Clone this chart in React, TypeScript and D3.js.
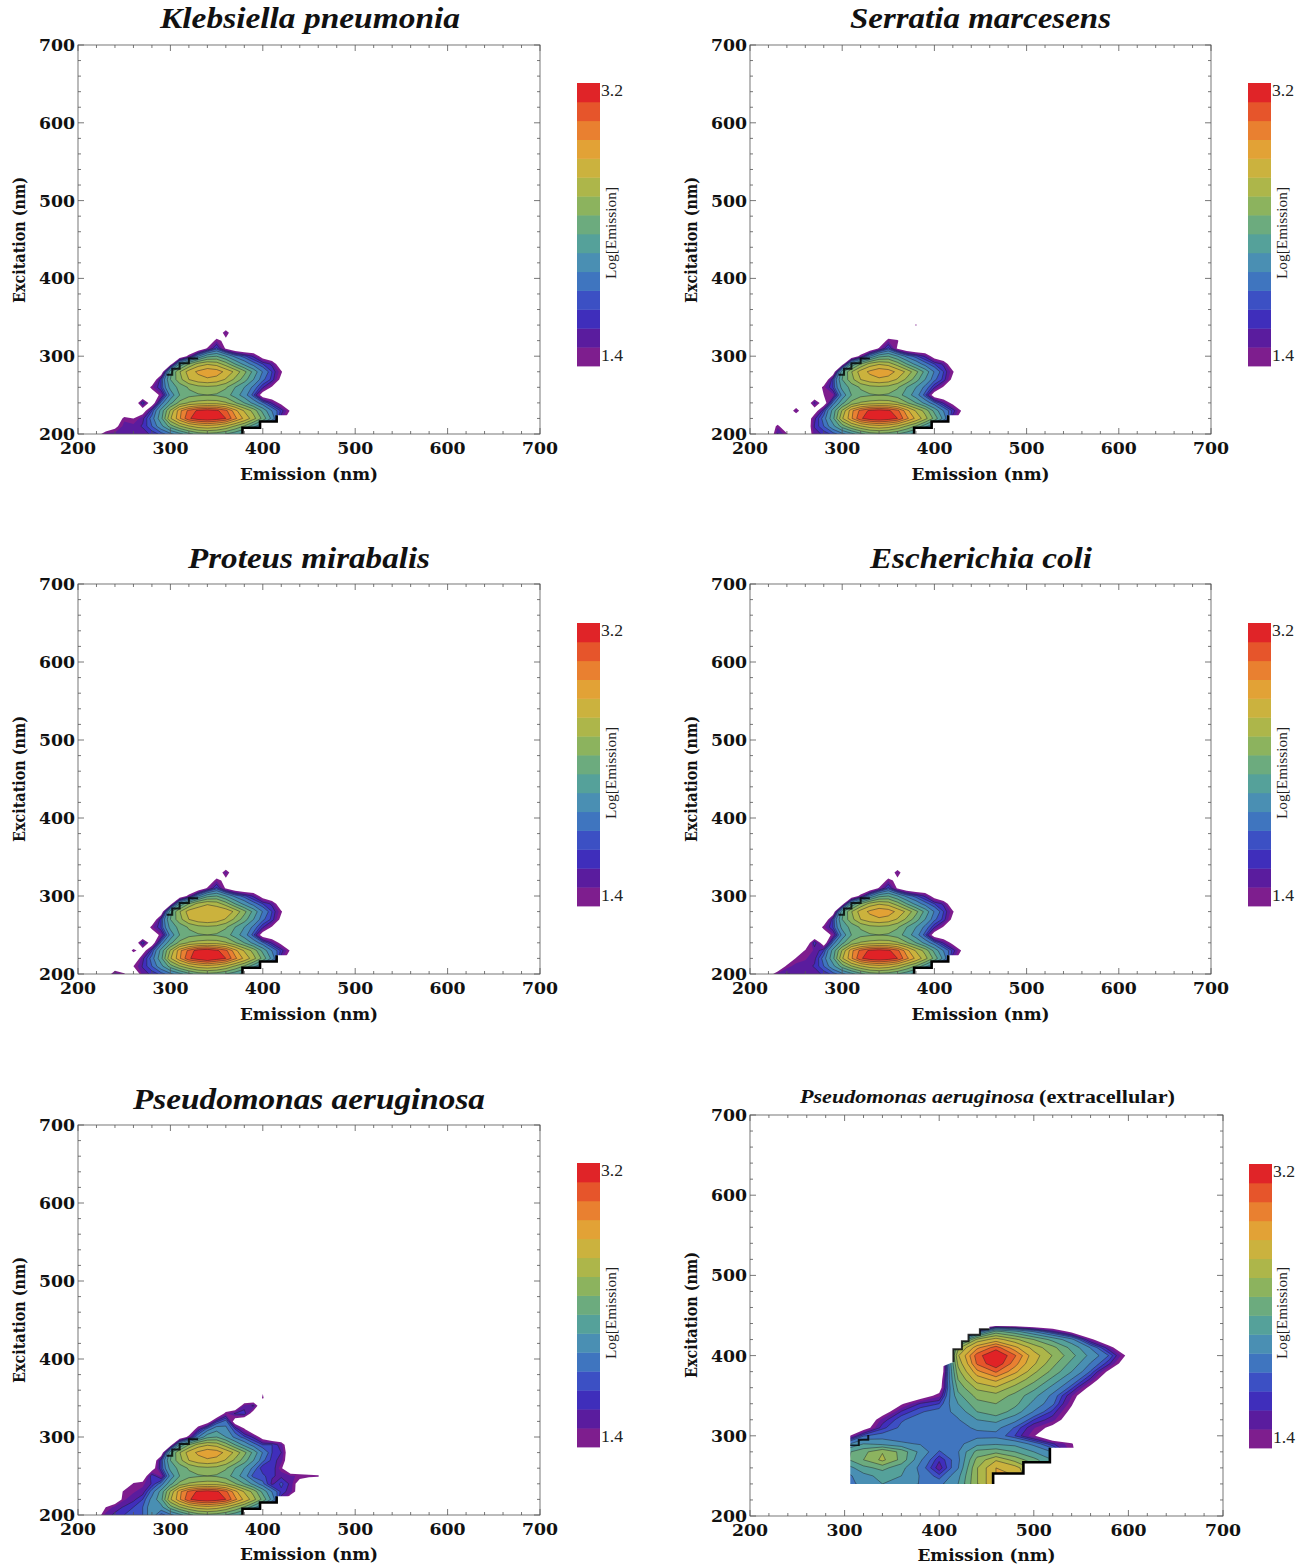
import React from "react";
import * as d3 from "d3";

const SERIF = "'Liberation Serif', serif";
const WIDE = "'DejaVu Serif', serif";
const o = 1.2;
const q = 1.1;

// Emission (columns) and excitation (rows, listed from top to bottom) of the bacterial EEM grid
const coreEm = [220,230,240,250,260,270,280,290,300,310,320,330,340,350,360,370,380,390,400,410,420,430,440,450,460,470];
const coreEx = [350,340,330,320,310,300,290,280,270,260,250,240,230,220,210,200];
const coreGrid = [
  [o,o,o,o,o,o,o,o,o,o,o,o,o,o,o,o,o,o,o,o,o,o,o,o,o,o],
  [o,o,o,o,o,o,o,o,o,o,o,o,o,o,o,o,o,o,o,o,o,o,o,o,o,o],
  [o,o,o,o,o,o,o,o,o,o,o,o,o,o,o,o,o,o,o,o,o,o,o,o,o,o],
  [o,o,o,o,o,o,o,o,o,o,o,o,1.22,1.46,1.34,o,o,o,o,o,o,o,o,o,o,o],
  [o,o,o,o,o,o,o,o,o,o,o,1.25,1.42,1.62,1.38,1.25,o,o,o,o,o,o,o,o,o,o],
  [o,o,o,o,o,o,o,o,o,1.25,1.45,1.75,2.0,2.05,1.9,1.72,1.62,1.52,1.32,o,o,o,o,o,o,o],
  [o,o,o,o,o,o,o,o,1.3,1.9,2.2,2.42,2.5,2.45,2.28,2.05,1.85,1.7,1.6,1.52,1.25,o,o,o,o,o],
  [o,o,o,o,o,o,o,1.25,2.0,2.35,2.6,2.74,2.84,2.8,2.65,2.48,2.25,2.0,1.75,1.6,1.42,o,o,o,o,o],
  [o,o,o,o,o,o,1.22,1.6,2.05,2.3,2.52,2.62,2.66,2.62,2.5,2.32,2.12,1.9,1.68,1.58,1.35,o,o,o,o,o],
  [o,o,o,o,o,o,1.45,1.6,1.95,2.1,2.22,2.3,2.32,2.3,2.22,2.05,1.9,1.72,1.55,1.38,o,o,o,o,o,o],
  [o,o,o,o,o,o,1.25,1.45,1.8,2.05,2.15,2.18,2.2,2.18,2.12,1.98,1.82,1.62,1.3,1.25,1.22,o,o,o,o,o],
  [o,o,o,o,o,o,1.28,1.7,2.0,2.25,2.38,2.42,2.44,2.44,2.38,2.22,2.05,1.85,1.68,1.52,1.35,1.22,o,o,o,o],
  [o,o,o,o,o,1.3,1.6,1.95,2.38,2.8,3.02,3.15,3.2,3.15,3.02,2.76,2.5,2.3,2.0,1.75,1.58,1.38,o,o,o,o],
  [o,o,o,o,o,1.52,1.7,2.0,2.5,2.82,3.1,3.2,3.25,3.2,3.12,2.88,2.66,2.42,2.15,1.85,1.5,1.25,o,o,o,o],
  [o,o,o,o,o,1.55,1.66,1.85,2.12,2.34,2.5,2.6,2.64,2.6,2.5,2.34,2.18,1.95,1.75,1.4,o,o,o,o,o,o],
  [o,o,o,o,o,1.5,1.56,1.62,1.72,1.85,2.0,2.12,2.15,2.12,2.05,1.95,1.85,1.6,1.3,o,o,o,o,o,o,o],
];

// Readings that differ from the shared grid: [emission, excitation, log value]
const klebsiellaEdits = [[220,200,1.3],[230,200,1.5],[240,200,1.5],[250,200,1.52],[260,200,1.5],[240,210,1.35],[250,210,1.5],[260,210,1.5],[250,220,1.45],[260,220,1.4],[270,240,1.6],[360,330,1.5]];
const serratiaEdits = [[230,200,1.55],[240,200,1.42],[230,210,1.45],[250,230,1.5],[270,240,1.55],[280,250,1.4],[360,320,1.42],[380,340,1.42]];
const proteusEdits = [[240,200,1.55],[250,200,1.42],[260,210,1.4],[270,240,1.6],[260,230,1.45],[360,330,1.52],[340,280,2.68],[350,280,2.66],[330,280,2.64],[340,220,3.3],[340,230,3.25],[330,230,3.2]];
const coliEdits = [[220,200,1.3],[230,200,1.5],[240,200,1.55],[250,200,1.52],[260,200,1.54],[240,210,1.44],[250,210,1.5],[260,210,1.5],[250,220,1.42],[260,220,1.46],[260,230,1.42],[270,230,1.48],[270,240,1.6],[360,330,1.5]];
const aeruginosaEdits = [
  [380,340,1.5],[390,340,1.55],[400,350,1.42],[360,330,1.45],[370,330,1.55],[380,330,1.58],[390,330,1.3],
  [340,320,1.3],[350,320,1.58],[360,320,1.7],[370,320,1.3],[380,320,1.2],
  [330,310,1.5],[340,310,1.7],[350,310,1.85],[360,310,1.8],[370,310,1.6],[380,310,1.42],
  [410,290,1.6],[420,290,1.5],[430,290,1.22],[420,280,1.54],[430,280,1.25],[420,270,1.5],[430,270,1.25],[410,260,1.6],[420,260,1.42],[430,260,1.2],
  [400,250,1.62],[410,250,1.55],[420,250,1.52],[430,250,1.48],[440,250,1.46],[450,250,1.44],[460,250,1.42],
  [420,240,1.62],[430,240,1.52],[440,240,1.3],[430,230,1.5],[440,230,1.3],
  [220,200,1.3],[230,200,1.5],[240,200,1.56],[250,200,1.6],[260,200,1.62],[270,200,1.66],[280,200,1.85],
  [230,210,1.4],[240,210,1.5],[250,210,1.55],[260,210,1.6],[270,210,1.66],[280,210,1.85],
  [240,220,1.25],[250,220,1.46],[260,220,1.52],[270,220,1.6],[280,220,1.8],
  [250,230,1.44],[260,230,1.46],[270,230,1.5],[280,230,1.7],
  [260,240,1.42],[270,240,1.45],[280,240,1.55],[270,250,1.25],[280,250,1.6],[280,260,1.3],[290,260,1.6],
];

// Extracellular panel grid
const extraEm = [300,320,340,360,380,400,420,440,460,480,500,520,540,560,580,600];
const extraEx = [440,430,420,410,400,390,380,370,360,350,340,330,320,310,300,290,280,270,260,250,240];
const extraGrid = [
  [q,q,q,q,q,q,q,q,q,q,q,q,q,q,q,q],
  [q,q,q,q,q,q,q,1.6,2.1,1.95,1.75,1.55,1.35,q,q,q],
  [q,q,q,q,q,q,1.7,2.4,2.6,2.4,2.2,2.0,1.8,1.45,1.15,q],
  [q,q,q,q,q,q,2.3,2.8,3.05,2.75,2.45,2.25,2.0,1.75,1.48,q],
  [q,q,q,q,q,q,2.5,3.05,3.3,3.0,2.6,2.35,2.1,1.85,1.65,1.35],
  [q,q,q,q,q,q,2.4,3.0,3.25,2.9,2.55,2.25,2.0,1.75,1.55,1.25],
  [q,q,q,q,q,1.15,2.3,2.8,3.0,2.75,2.4,2.15,1.9,1.65,1.35,q],
  [q,q,q,q,q,1.25,2.2,2.6,2.75,2.5,2.25,2.0,1.75,1.52,1.2,q],
  [q,q,q,q,q,1.3,2.1,2.4,2.5,2.3,2.1,1.85,1.62,1.35,q,q],
  [q,q,q,q,1.3,1.45,2.0,2.25,2.3,2.15,1.95,1.72,1.48,1.2,q,q],
  [q,q,q,1.38,1.55,1.6,1.9,2.15,2.2,2.1,1.85,1.68,1.42,q,q,q],
  [q,q,1.3,1.55,1.65,1.7,1.8,2.05,2.15,1.98,1.75,1.58,1.35,q,q,q],
  [q,1.2,1.5,1.65,1.7,1.72,1.75,1.9,1.95,1.8,1.6,1.5,1.28,q,q,q],
  [q,1.3,1.58,1.68,1.7,1.72,1.72,1.78,1.8,1.65,1.48,1.35,q,q,q,q],
  [1.3,1.65,1.7,1.7,1.7,1.72,1.72,1.72,1.72,1.6,1.42,1.15,q,q,q,q],
  [1.7,1.9,1.85,1.78,1.75,1.72,1.72,1.85,1.88,1.85,1.72,1.55,1.42,q,q,q],
  [2.0,2.15,2.35,2.15,1.85,1.65,1.75,2.1,2.15,2.05,1.9,1.75,1.45,q,q,q],
  [2.0,2.2,2.4,2.15,1.78,1.55,1.72,2.25,2.5,2.3,2.1,1.9,1.4,q,q,q],
  [1.8,2.0,2.1,1.95,1.72,1.5,1.75,2.35,2.7,2.6,2.3,1.9,q,q,q,q],
  [1.7,1.85,1.95,1.9,1.75,1.62,1.85,2.35,2.7,2.7,2.3,1.8,q,q,q,q],
  [1.7,1.8,1.9,1.85,1.75,1.72,1.9,2.35,2.7,2.7,2.3,1.8,q,q,q,q],
];

// Excluded (scatter) edges, drawn in black: [emission, excitation]
const lowerStair = [[378,200],[378,208],[397,208],[397,216],[415,216],[415,224]];
const upperStair = [[296,276],[302,276],[302,284],[310,284],[310,291],[320,291],[320,297],[330,297]];
const extraLowerStair = [[457,240],[457,253],[489,253],[489,267],[517,267],[517,285]];
const extraUpperStair = [[415,392],[415,408],[424,408],[424,418],[431,418],[431,426],[443,426],[443,433],[453,433]];
const extraLeftStair = [[306,288],[315,288],[315,295],[325,295],[325,301]];
const lowerClip = [[200,200],[378,200],[378,208],[397,208],[397,216],[415,216],[415,224],[700,224],[700,700],[200,700]];
const extraClip = [[306,240],[457,240],[457,253],[489,253],[489,267],[517,267],[517,285],[700,285],[700,445],[453,445],[453,433],[443,433],[443,426],[431,426],[431,418],[424,418],[424,408],[415,408],[415,392],[400,385],[385,350],[306,350]];

const bandColors = ["#7e1e8e","#5a1c9e","#3f2ebb","#3c50c4","#3f75bf","#4a8fb3","#55a19a","#6cab7e","#8cb35e","#adb64a","#cbb23e","#e2a236","#e98030","#e6552b","#e02428"];
const contourLevels = [1.4,1.47,1.54,1.6,1.66,1.76,1.9,2.05,2.2,2.36,2.52,2.7,2.84,2.98,3.12];
const axisTicks = [200,300,400,500,600,700];
const minorTicks = d3.range(200, 701, 20);

type P = {
  key: string; title: React.ReactNode; px: [number, number]; py: [number, number];
  bar: [number, number, number]; yLabelX: number; yLabelMid: number; xLabelY: number;
  logLabelX: number; logMid: number; em: number[]; ex: number[]; grid: number[][];
  edits: number[][]; clip: number[][]; blacks: number[][][];
};

function applyEdits(grid: number[][], em: number[], ex: number[], edits: number[][]) {
  const g = grid.map((r) => r.slice());
  edits.forEach(([e, x, v]) => {
    g[ex.indexOf(x)][em.indexOf(e)] = v;
  });
  return g;
}

function Panel({ p }: { p: P }) {
  const x = d3.scaleLinear().domain([200, 700]).range(p.px);
  const y = d3.scaleLinear().domain([200, 700]).range(p.py);
  const g = applyEdits(p.grid, p.em, p.ex, p.edits);
  const nx = p.em.length, ny = p.ex.length;
  const gx = d3.scaleLinear().domain([0.5, nx - 0.5]).range([p.em[0], p.em[nx - 1]]);
  const gy = d3.scaleLinear().domain([0.5, ny - 0.5]).range([p.ex[0], p.ex[ny - 1]]);
  const projection = d3.geoTransform({
    point(a: number, b: number) {
      (this as any).stream.point(x(gx(a)), y(gy(b)));
    },
  });
  const path = d3.geoPath(projection as any);
  const layers = d3.contours().size([nx, ny]).smooth(true).thresholds(contourLevels)(g.flat());
  const line = d3.line<number[]>().x((d) => x(d[0])).y((d) => y(d[1]));
  const clipId = `clip-${p.key}`;
  const [bx, bTop, bBot] = p.bar;
  const barBand = (bBot - bTop) / bandColors.length;
  const bandTicksStyle = { stroke: "#555", strokeWidth: 0.8 };
  return (
    <g>
      <clipPath id={clipId}>
        <path d={line(p.clip.concat([p.clip[0]])) as string} />
      </clipPath>
      <g clipPath={`url(#${clipId})`} filter="url(#soft)">
        {layers.map((c, i) => (
          <path key={i} d={path(c as any) as string} fill={bandColors[i]}
            stroke={i > 1 ? "rgba(30,30,40,0.5)" : "none"} strokeWidth={0.9} />
        ))}
      </g>
      {p.blacks.map((s, i) => (
        <path key={i} d={line(s) as string} fill="none" stroke="#000" strokeOpacity={i === 0 ? 1 : 0.8} strokeWidth={i === 0 ? 2.6 : 2} filter="url(#soft)" />
      ))}
      <rect x={p.px[0]} y={p.py[1]} width={p.px[1] - p.px[0]} height={p.py[0] - p.py[1]} fill="none" {...bandTicksStyle} />
      {minorTicks.map((t) => {
        const major = t % 100 === 0;
        const l = major ? 6 : 3;
        return (
          <g key={t} {...bandTicksStyle}>
            <line x1={x(t)} x2={x(t)} y1={p.py[0]} y2={p.py[0] - l} />
            <line x1={x(t)} x2={x(t)} y1={p.py[1]} y2={p.py[1] + l} />
            <line y1={y(t)} y2={y(t)} x1={p.px[0]} x2={p.px[0] + l} />
            <line y1={y(t)} y2={y(t)} x1={p.px[1]} x2={p.px[1] - l} />
          </g>
        );
      })}
      <g fontFamily={WIDE} fontWeight="bold" fontSize={16} fill="#111">
        {axisTicks.map((t) => (
          <text key={t} x={x(t)} y={p.py[0] + 20} textAnchor="middle" textLength={36} lengthAdjust="spacingAndGlyphs">{t}</text>
        ))}
        {axisTicks.map((t) => (
          <text key={t} x={p.px[0] - 3} y={y(t) + 6} textAnchor="end" textLength={36} lengthAdjust="spacingAndGlyphs">{t}</text>
        ))}
        <text x={(p.px[0] + p.px[1]) / 2} y={p.xLabelY} textAnchor="middle" textLength={138} lengthAdjust="spacingAndGlyphs">Emission (nm)</text>
        <text transform={`translate(${p.yLabelX},${p.yLabelMid}) rotate(-90)`} textAnchor="middle" textLength={126} lengthAdjust="spacingAndGlyphs">Excitation (nm)</text>
      </g>
      {p.title}
      {bandColors.map((c, i) => (
        <rect key={c} x={bx} width={23} y={bBot - (i + 1) * barBand} height={barBand + 0.4} fill={c} />
      ))}
      <g fontFamily={SERIF} fill="#222">
        <text x={bx + 24} y={bTop + 13} fontSize={16} textLength={22} lengthAdjust="spacingAndGlyphs">{"3.2"}</text>
        <text x={bx + 24} y={bBot - 5} fontSize={16} textLength={22} lengthAdjust="spacingAndGlyphs">{"1.4"}</text>
        <text transform={`translate(${p.logLabelX},${p.logMid}) rotate(-90)`} fontSize={15} textAnchor="middle" textLength={92} lengthAdjust="spacingAndGlyphs">Log[Emission]</text>
      </g>
    </g>
  );
}

const bigTitle = (text: string, x0: number, x1: number, yb: number) => (
  <text x={x0} y={yb} fontFamily={SERIF} fontWeight="bold" fontStyle="italic" fontSize={30} fill="#111"
    textLength={x1 - x0} lengthAdjust="spacingAndGlyphs">{text}</text>
);

const coreBlacks = [lowerStair, upperStair];

const panels: P[] = [
  { key: "kp", title: bigTitle("Klebsiella pneumonia", 160, 460, 28), px: [78, 540], py: [434, 45], bar: [577, 83, 366], yLabelX: 25, yLabelMid: 240, xLabelY: 480, logLabelX: 616, logMid: 233, em: coreEm, ex: coreEx, grid: coreGrid, edits: klebsiellaEdits, clip: lowerClip, blacks: coreBlacks },
  { key: "sm", title: bigTitle("Serratia marcesens", 850, 1111, 28), px: [750, 1211], py: [434, 45], bar: [1248, 83, 366], yLabelX: 697, yLabelMid: 240, xLabelY: 480, logLabelX: 1287, logMid: 233, em: coreEm, ex: coreEx, grid: coreGrid, edits: serratiaEdits, clip: lowerClip, blacks: coreBlacks },
  { key: "pm", title: bigTitle("Proteus mirabalis", 188, 430, 568), px: [78, 540], py: [974, 584], bar: [577, 623, 906], yLabelX: 25, yLabelMid: 779, xLabelY: 1020, logLabelX: 616, logMid: 773, em: coreEm, ex: coreEx, grid: coreGrid, edits: proteusEdits, clip: lowerClip, blacks: coreBlacks },
  { key: "ec", title: bigTitle("Escherichia coli", 870, 1092, 568), px: [750, 1211], py: [974, 584], bar: [1248, 623, 906], yLabelX: 697, yLabelMid: 779, xLabelY: 1020, logLabelX: 1287, logMid: 773, em: coreEm, ex: coreEx, grid: coreGrid, edits: coliEdits, clip: lowerClip, blacks: coreBlacks },
  { key: "pa", title: bigTitle("Pseudomonas aeruginosa", 133, 485, 1109), px: [78, 540], py: [1515, 1125], bar: [577, 1163, 1447], yLabelX: 25, yLabelMid: 1320, xLabelY: 1560, logLabelX: 616, logMid: 1313, em: coreEm, ex: coreEx, grid: coreGrid, edits: aeruginosaEdits, clip: lowerClip, blacks: coreBlacks },
  {
    key: "pe",
    title: (
      <g fontFamily={SERIF} fontWeight="bold" fontSize={18} fill="#111">
        <text x={800} y={1103} fontStyle="italic" textLength={234} lengthAdjust="spacingAndGlyphs">Pseudomonas aeruginosa</text>
        <text x={1039} y={1103} textLength={136} lengthAdjust="spacingAndGlyphs">(extracellular)</text>
      </g>
    ),
    px: [750, 1223], py: [1516, 1115], bar: [1249, 1164, 1448], yLabelX: 697, yLabelMid: 1315, xLabelY: 1561, logLabelX: 1287, logMid: 1313,
    em: extraEm, ex: extraEx, grid: extraGrid, edits: [], clip: extraClip, blacks: [extraLowerStair, extraUpperStair, extraLeftStair],
  },
];

export default function App() {
  return (
    <svg width={1307} height={1568} viewBox="0 0 1307 1568" style={{ position: "absolute", left: 0, top: 0, background: "#fff" }}>
      <defs>
        <filter id="soft" x="-5%" y="-5%" width="110%" height="110%">
          <feGaussianBlur stdDeviation={0.6} />
        </filter>
      </defs>
      {panels.map((p) => <Panel key={p.key} p={p} />)}
    </svg>
  );
}
